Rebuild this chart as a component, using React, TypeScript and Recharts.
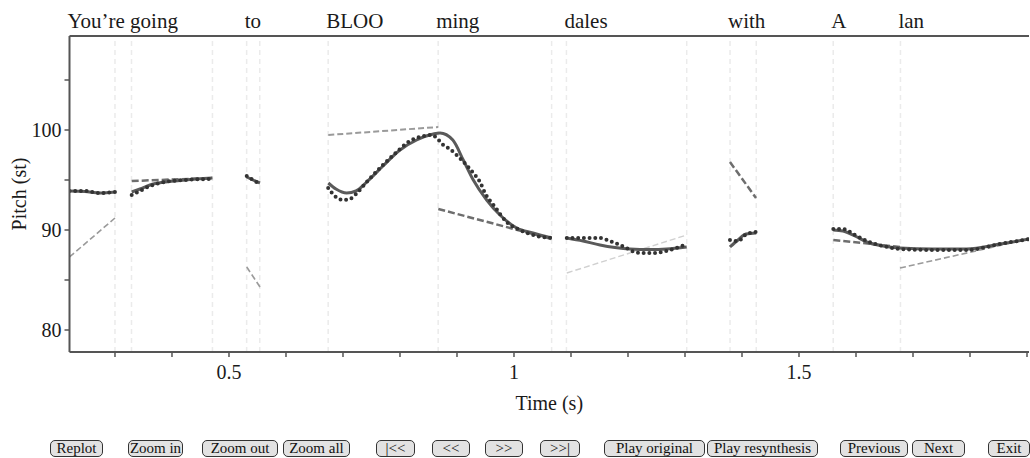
import { ComposedChart, Line, XAxis, YAxis, ReferenceLine, Label } from "recharts";

const SERIF = "'Liberation Serif', 'DejaVu Serif', serif";

// words of the utterance, placed at the start time (s) of each one
const WORDS = ["You’re going", "to", "BLOO", "ming", "dales", "with", "A", "lan"];
const WORD_STARTS = [0.2202, 0.531, 0.674, 0.867, 1.092, 1.379, 1.56, 1.678];

// syllable boundaries (s)
const BOUNDARIES = [0.3, 0.329, 0.471, 0.531, 0.554, 0.674, 0.867, 1.066, 1.092, 1.303, 1.379, 1.425, 1.56, 1.678];

const X_TICKS = [0.3, 0.4, 0.5, 0.6, 0.7, 0.8, 0.9, 1, 1.1, 1.2, 1.3, 1.4, 1.5, 1.6, 1.7, 1.8, 1.9];
const X_LABELED = [0.5, 1, 1.5];
const Y_TICKS = [80, 85, 90, 95, 100, 105];
const Y_LABELED = [80, 90, 100];

// resynthesised pitch [time s, semitones]
const RESYNTH_YOURE = [[0.2202, 93.9], [0.2474, 93.85], [0.2737, 93.7], [0.3, 93.8]];
const RESYNTH_GOING = [[0.3293, 93.8], [0.3439, 94.1], [0.3614, 94.5], [0.3877, 94.8], [0.4228, 95.0], [0.4707, 95.2]];
const RESYNTH_TO = [[0.5311, 95.3], [0.5421, 95.0], [0.5544, 94.7]];
const RESYNTH_BLOOMING = [
  [0.6742, 94.7], [0.6877, 94.1], [0.7065, 93.7], [0.7228, 93.9], [0.7416, 94.8], [0.7702, 96.4],
  [0.8, 98.0], [0.8292, 99.0], [0.8585, 99.6], [0.8702, 99.7], [0.8927, 99.0], [0.911, 97.0],
  [0.9286, 95.0], [0.9521, 93.0], [0.9754, 91.5], [1.0048, 90.2], [1.0333, 89.7], [1.0661, 89.2],
];
const RESYNTH_DALES = [[1.0926, 89.2], [1.1211, 88.9], [1.1509, 88.5], [1.1772, 88.25], [1.2035, 88.1], [1.2386, 88.05], [1.2679, 88.1], [1.303, 88.3]];
const RESYNTH_WITH = [[1.3789, 88.3], [1.393, 89.0], [1.407, 89.6], [1.4246, 89.7]];
const RESYNTH_ALAN = [
  [1.5602, 90.0], [1.5772, 89.9], [1.5982, 89.4], [1.6188, 88.8], [1.6474, 88.4], [1.6772, 88.2],
  [1.7351, 88.1], [1.7942, 88.1], [1.8526, 88.6], [1.9035, 89.1],
];

// original (measured) pitch
const ORIG_YOURE = [[0.2202, 93.9], [0.2474, 93.9], [0.2737, 93.7], [0.3, 93.8]];
const ORIG_GOING = [[0.3293, 93.5], [0.3439, 93.9], [0.3614, 94.4], [0.3877, 94.8], [0.4228, 95.0], [0.4707, 95.1]];
const ORIG_TO = [[0.5311, 95.4], [0.5421, 95.0], [0.5544, 94.6]];
const ORIG_BLOOMING = [
  [0.674, 94.2], [0.6877, 93.3], [0.7, 93.0], [0.7123, 93.1], [0.7246, 93.7], [0.7416, 94.8], [0.7702, 96.5],
  [0.8, 98.1], [0.8123, 98.7], [0.8416, 99.4], [0.856, 99.5], [0.8644, 99.2], [0.876, 98.5], [0.8877, 98.1],
  [0.8994, 97.5], [0.9083, 97.0], [0.9286, 95.7], [0.9404, 94.8], [0.9491, 93.7], [0.9667, 92.3],
  [0.9872, 90.8], [1.0105, 90.0], [1.0398, 89.4], [1.0661, 89.2],
];
const ORIG_DALES = [[1.0926, 89.2], [1.1277, 89.2], [1.1509, 89.2], [1.1684, 88.9], [1.186, 88.5], [1.2211, 87.7], [1.2439, 87.7], [1.279, 88.1], [1.303, 88.6]];
const ORIG_WITH = [[1.3789, 89.0], [1.393, 88.9], [1.4082, 89.6], [1.4246, 89.8]];
const ORIG_ALAN = [
  [1.5602, 90.1], [1.5772, 90.1], [1.5982, 89.5], [1.6188, 88.9], [1.6474, 88.4], [1.6772, 88.1],
  [1.7351, 88.0], [1.7942, 88.0], [1.8526, 88.6], [1.9035, 89.1],
];

// pitch targets, one line per syllable
const TARGET_YOURE = [[0.2202, 87.3], [0.3, 91.2]];
const TARGET_GOING = [[0.3293, 94.9], [0.4707, 95.2]];
const TARGET_TO = [[0.5311, 86.3], [0.5544, 84.3]];
const TARGET_BLOO = [[0.6742, 99.5], [0.8672, 100.3]];
const TARGET_MING = [[0.8672, 92.1], [1.0661, 89.1]];
const TARGET_DALES = [[1.0926, 85.7], [1.303, 89.5]];
const TARGET_WITH = [[1.3789, 96.8], [1.4246, 93.2]];
const TARGET_A = [[1.5602, 89.0], [1.6772, 88.3]];
const TARGET_LAN = [[1.6772, 86.2], [1.9035, 89.1]];

const BUTTONS = ["Replot", "Zoom in", "Zoom out", "Zoom all", "|<<", "<<", ">>", ">>|", "Play original", "Play resynthesis", "Previous", "Next", "Exit"];

const pts = (a: number[][]) => a.map(([t, v]) => ({ t, v }));

const strong = { stroke: "#6e6e6e", strokeWidth: 2.5, strokeDasharray: "7 3" };
const medium = { stroke: "#9a9a9a", strokeWidth: 1.6, strokeDasharray: "6 3" };
const weak = { stroke: "#d0d0d0", strokeWidth: 1.4, strokeDasharray: "6 3" };

const targets = [
  { d: TARGET_YOURE, s: medium },
  { d: TARGET_GOING, s: strong },
  { d: TARGET_TO, s: medium },
  { d: TARGET_BLOO, s: { ...medium, strokeWidth: 2 } },
  { d: TARGET_MING, s: strong },
  { d: TARGET_DALES, s: weak },
  { d: TARGET_WITH, s: strong },
  { d: TARGET_A, s: strong },
  { d: TARGET_LAN, s: medium },
];
const resynth = [RESYNTH_YOURE, RESYNTH_GOING, RESYNTH_TO, RESYNTH_BLOOMING, RESYNTH_DALES, RESYNTH_WITH, RESYNTH_ALAN];
const orig = [ORIG_YOURE, ORIG_GOING, ORIG_TO, ORIG_BLOOMING, ORIG_DALES, ORIG_WITH, ORIG_ALAN];

const buttonBoxes = [
  [50, 53], [128, 55], [202, 76], [283, 67], [376, 39], [432, 38], [485, 38], [540, 40],
  [604, 101], [707, 111], [840, 68], [912, 53], [988, 42],
];

const X_DOMAIN = [0.2202, 1.9035];

function WordTick(props: any) {
  const { x, y, payload } = props;
  const i = WORD_STARTS.indexOf(payload.value);
  return (
    <text x={x - 2} y={y} textAnchor="start" fontFamily={SERIF} fontSize={21} fill="#1a1a1a">
      {WORDS[i]}
    </text>
  );
}

export default function App() {
  const axisLine = { stroke: "#555", strokeWidth: 2 };
  const tickStyle = { fontFamily: SERIF, fontSize: 20, fill: "#1a1a1a" };
  return (
    <div style={{ position: "absolute", left: 0, top: 0, width: 1030, height: 458, background: "#fff" }}>
      <ComposedChart width={1030} height={458} margin={{ top: 0, right: 1, bottom: 36, left: 9.5 }}>
        <XAxis
          xAxisId="top"
          orientation="top"
          type="number"
          dataKey="t"
          domain={X_DOMAIN}
          allowDataOverflow
          ticks={WORD_STARTS}
          tick={<WordTick />}
          tickLine={false}
          axisLine={axisLine}
          height={36}
          interval={0}
        />
        <XAxis
          type="number"
          dataKey="t"
          domain={X_DOMAIN}
          allowDataOverflow
          ticks={X_TICKS}
          interval={0}
          tickFormatter={(v: number) => (X_LABELED.some((l) => Math.abs(l - v) < 1e-6) ? String(v) : "")}
          tick={tickStyle}
          tickLine={{ stroke: "#555", strokeWidth: 1.5 }}
          tickSize={5}
          tickMargin={8}
          axisLine={axisLine}
          height={70}
        >
          <Label
            content={({ viewBox }: any) => (
              <text x={viewBox.x + viewBox.width / 2} y={viewBox.y + 58} textAnchor="middle" fontFamily={SERIF} fontSize={20} fill="#1a1a1a">
                Time (s)
              </text>
            )}
          />
        </XAxis>
        <YAxis
          type="number"
          domain={[77.8, 109.4]}
          allowDataOverflow
          ticks={Y_TICKS}
          interval={0}
          tickFormatter={(v: number) => (Y_LABELED.includes(v) ? String(v) : "")}
          tick={tickStyle}
          tickLine={{ stroke: "#555", strokeWidth: 1.5 }}
          tickSize={5}
          tickMargin={3}
          axisLine={axisLine}
          width={60}
        >
          <Label
            content={({ viewBox }: any) => {
              const cx = viewBox.x + 16;
              const cy = viewBox.y + viewBox.height / 2;
              return (
                <text x={cx} y={cy} transform={`rotate(-90 ${cx} ${cy})`} textAnchor="middle" fontFamily={SERIF} fontSize={20} fill="#1a1a1a">
                  Pitch (st)
                </text>
              );
            }}
          />
        </YAxis>
        {BOUNDARIES.map((b) => (
          <ReferenceLine key={"b" + b} x={b} stroke="#ebebeb" strokeWidth={1.5} strokeDasharray="5 4" />
        ))}
        {targets.map((tg, i) => (
          <Line
            key={"tg" + i}
            data={pts(tg.d)}
            dataKey="v"
            type="linear"
            {...tg.s}
            dot={false}
            activeDot={false}
            isAnimationActive={false}
          />
        ))}
        {resynth.map((seg, i) => (
          <Line
            key={"rs" + i}
            data={pts(seg)}
            dataKey="v"
            type="monotone"
            stroke="#5a5a5a"
            strokeWidth={3}
            dot={false}
            activeDot={false}
            isAnimationActive={false}
          />
        ))}
        {orig.map((seg, i) => (
          <Line
            key={"or" + i}
            data={pts(seg)}
            dataKey="v"
            type="monotone"
            stroke="#333"
            strokeWidth={4}
            strokeLinecap="round"
            strokeDasharray="0 5.7"
            dot={false}
            activeDot={false}
            isAnimationActive={false}
          />
        ))}
      </ComposedChart>
      {BUTTONS.map((b, i) => (
        <div
          key={b}
          style={{
            position: "absolute",
            left: buttonBoxes[i][0],
            top: 440,
            width: buttonBoxes[i][1],
            height: 17,
            boxSizing: "border-box",
            border: "1px solid #333",
            borderRadius: 5,
            background: "#e2e2e2",
            fontFamily: SERIF,
            fontSize: 15,
            lineHeight: "15px",
            textAlign: "center",
            color: "#111",
            whiteSpace: "nowrap",
            overflow: "hidden",
          }}
        >
          {b}
        </div>
      ))}
    </div>
  );
}
